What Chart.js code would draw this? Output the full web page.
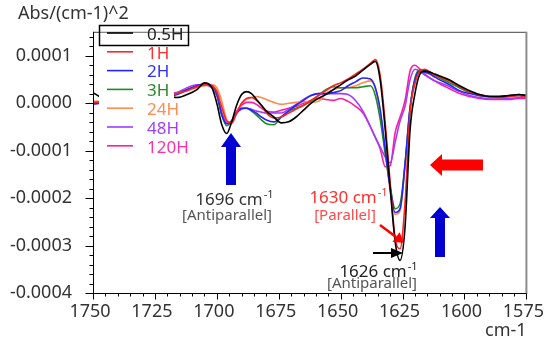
<!DOCTYPE html>
<html>
<head>
<meta charset="utf-8">
<script src="https://cdn.jsdelivr.net/npm/chart.js@4.4.1/dist/chart.umd.min.js"></script>
<style>
  html, body { margin: 0; padding: 0; background: #fff; }
</style>
</head>
<body>
<canvas id="spectra" width="555" height="343"></canvas>
<script>
// wavenumber grid (cm-1) and second-derivative values, in units of 1e-5
const wavenumbers = [1750, 1745, 1740, 1735, 1730, 1725, 1720, 1716, 1712, 1708,
    1705, 1702, 1700, 1698, 1696, 1694, 1692, 1690, 1688, 1686,
    1684, 1682, 1680, 1677, 1674, 1671, 1668, 1665, 1662, 1659,
    1656, 1653, 1650, 1647, 1644, 1641, 1638, 1636, 1634, 1632,
    1630, 1628, 1626, 1624, 1622, 1620, 1618, 1616, 1614, 1612,
    1610, 1606, 1602, 1598, 1594, 1590, 1586, 1582, 1578, 1575];

const h05 = [2.20, 0.76, 0.55, 0.76, 1.17, 1.38, 1.38, 1.17, 1.79, 2.81,
    4.25, 3.22, -0.06, -4.58, -6.43, -3.96, -0.47, 1.79, 2.40, 1.99,
    0.76, -0.47, -1.70, -2.94, -4.17, -3.96, -2.94, -1.50, -0.06, 0.97,
    1.79, 2.81, 3.84, 4.87, 5.69, 6.92, 8.15, 8.77, 4.66, -5.61,
    -17.93, -29.22, -33.12, -26.14, -5.81, 1.99, 6.10, 6.71, 6.51, 6.10,
    5.69, 4.87, 3.63, 2.61, 1.79, 1.38, 1.38, 1.58, 1.79, 1.58];
const h1 = [0.14, 0.35, 0.55, 0.76, 0.97, 1.17, 1.58, 1.99, 2.61, 3.43,
    3.84, 3.63, 2.40, -0.88, -3.76, -4.17, -2.11, -0.06, 0.97, 1.17,
    0.55, -0.47, -2.11, -3.14, -2.94, -2.11, -1.29, -0.47, 0.55, 1.58,
    2.61, 3.63, 4.25, 5.07, 6.10, 7.13, 8.36, 9.18, 5.69, -4.20,
    -16.90, -28.40, -30.66, -21.01, -2.11, 4.05, 6.71, 7.13, 6.51, 5.89,
    5.48, 4.66, 3.43, 2.40, 1.79, 1.38, 1.17, 1.38, 1.58, 1.38];
const h2 = [-0.27, 0.14, 0.55, 0.76, 0.97, 1.17, 1.38, 1.79, 2.81, 3.63,
    4.05, 3.63, 1.99, -2.53, -4.37, -3.96, -2.11, -1.09, -1.09, -1.50,
    -2.11, -2.94, -3.55, -3.96, -2.94, -1.70, -0.47, 0.55, 1.58, 1.99,
    1.99, 2.20, 2.61, 3.63, 4.46, 5.28, 5.07, 3.22, -1.50, -9.71,
    -17.93, -23.05, -22.24, -12.79, -1.09, 4.87, 6.71, 6.51, 6.10, 5.48,
    4.87, 3.84, 2.61, 1.99, 1.58, 1.38, 1.38, 1.58, 1.58, 1.38];
const h3 = [-0.06, 0.14, 0.55, 0.76, 0.97, 1.17, 1.58, 1.99, 2.81, 3.43,
    3.84, 3.63, 1.99, -2.53, -4.78, -3.76, -2.11, -1.09, -1.09, -1.70,
    -2.53, -3.55, -4.37, -4.58, -2.94, -1.70, -1.09, -0.47, 0.35, 1.58,
    2.81, 3.43, 3.22, 3.22, 3.22, 3.43, 3.63, 1.58, -3.55, -10.74,
    -17.52, -22.24, -21.21, -12.79, -1.29, 5.28, 6.92, 6.92, 6.51, 5.89,
    5.28, 4.25, 3.22, 2.20, 1.58, 1.38, 1.38, 1.38, 1.79, 1.58];
const h24 = [0.35, 0.35, 0.55, 0.76, 0.97, 1.17, 1.79, 1.99, 2.61, 3.22,
    3.63, 3.84, 3.22, 0.35, -3.55, -4.37, -2.11, -0.06, 0.76, 1.17,
    1.38, 1.17, 0.76, 0.14, -0.27, -0.06, 0.14, 0.35, 0.14, 0.35,
    1.99, 2.81, 3.22, 3.22, 3.63, 4.25, 4.66, 3.22, -2.11, -10.12,
    -18.54, -23.47, -22.65, -13.20, -1.29, 4.87, 6.71, 6.51, 6.30, 5.89,
    5.28, 4.46, 3.22, 2.20, 1.58, 1.17, 1.17, 1.38, 1.58, 1.38];
const h48 = [0.14, 0.35, 0.55, 0.76, 0.97, 1.38, 1.79, 2.20, 3.22, 3.84,
    3.84, 3.22, 1.58, -2.11, -4.17, -3.76, -2.11, -1.29, -1.09, -1.29,
    -1.70, -1.91, -2.11, -2.11, -2.11, -1.29, -0.27, 0.76, 1.58, 1.99,
    1.99, 1.99, 1.99, 1.79, 0.55, -1.70, -4.99, -7.25, -9.30, -11.36,
    -12.59, -8.27, -3.76, -0.68, 4.87, 7.13, 6.71, 5.89, 5.28, 4.66,
    4.25, 3.43, 2.40, 1.58, 1.17, 0.97, 0.97, 0.97, 1.17, 1.17];
const h120 = [0.14, 0.35, 0.55, 0.76, 0.97, 1.38, 1.99, 2.20, 2.81, 3.63,
    3.84, 3.22, 1.58, -2.11, -4.17, -3.76, -1.70, -0.47, 0.14, 0.14,
    -0.27, -1.09, -1.70, -1.91, -1.50, -1.09, -0.68, -0.06, 0.55, 0.97,
    0.76, 0.55, 0.97, 0.35, -0.68, -2.11, -4.99, -7.25, -9.71, -13.41,
    -13.20, -6.22, -2.94, 0.55, 6.71, 7.95, 7.13, 6.10, 5.28, 4.66,
    4.05, 3.02, 1.99, 1.38, 0.97, 0.76, 0.76, 0.76, 0.97, 0.97];

const seriesLabels = ['0.5H', '1H', '2H', '3H', '24H', '48H', '120H'];
const seriesValues = [h05, h1, h2, h3, h24, h48, h120];

const xTicks = [1750, 1725, 1700, 1675, 1650, 1625, 1600, 1575];
const yTicks = [-0.0004, -0.0003, -0.0002, -0.0001, 0, 0.0001];

const lineColors = ['#000000', '#ff2424', '#2424ff', '#1e8c1e', '#ff8c4c', '#a03cff', '#ff1c9e'];
const textColors = ['#222222', '#ff3030', '#3030ff', '#2a8a2a', '#ff8c50', '#a040ff', '#ff30a8'];
const FONT = '"Noto Sans", "Open Sans", sans-serif';
const UNIT = 1e-5;

// ---------------------------- helpers ------------------------------

function upArrow(ctx, cx, tipY, headY, bottomY, headHalf, shaftHalf, color) {
    ctx.fillStyle = color;
    ctx.beginPath();
    ctx.moveTo(cx, tipY);
    ctx.lineTo(cx + headHalf, headY);
    ctx.lineTo(cx + shaftHalf, headY);
    ctx.lineTo(cx + shaftHalf, bottomY);
    ctx.lineTo(cx - shaftHalf, bottomY);
    ctx.lineTo(cx - shaftHalf, headY);
    ctx.lineTo(cx - headHalf, headY);
    ctx.closePath();
    ctx.fill();
}

function leftArrow(ctx, tipX, cy, headX, endX, headHalf, shaftHalf, color) {
    ctx.fillStyle = color;
    ctx.beginPath();
    ctx.moveTo(tipX, cy);
    ctx.lineTo(headX, cy - headHalf);
    ctx.lineTo(headX, cy - shaftHalf);
    ctx.lineTo(endX, cy - shaftHalf);
    ctx.lineTo(endX, cy + shaftHalf);
    ctx.lineTo(headX, cy + shaftHalf);
    ctx.lineTo(headX, cy + headHalf);
    ctx.closePath();
    ctx.fill();
}

function lineArrow(ctx, x1, y1, x2, y2, width, headLen, headHalf, color) {
    const ang = Math.atan2(y2 - y1, x2 - x1);
    const bx = x2 - headLen * Math.cos(ang);
    const by = y2 - headLen * Math.sin(ang);
    ctx.strokeStyle = color;
    ctx.lineWidth = width;
    ctx.beginPath();
    ctx.moveTo(x1, y1);
    ctx.lineTo(bx, by);
    ctx.stroke();
    ctx.fillStyle = color;
    ctx.beginPath();
    ctx.moveTo(x2, y2);
    ctx.lineTo(bx + headHalf * Math.sin(ang), by - headHalf * Math.cos(ang));
    ctx.lineTo(bx - headHalf * Math.sin(ang), by + headHalf * Math.cos(ang));
    ctx.closePath();
    ctx.fill();
}

function bandLabel(ctx, num, cx, baseY, size, color) {
    ctx.font = size + 'px ' + FONT;
    const main = num + ' cm';
    const w1 = ctx.measureText(main).width;
    ctx.font = Math.round(size * 0.62) + 'px ' + FONT;
    const w2 = ctx.measureText('-1').width;
    const x0 = cx - (w1 + w2) / 2;
    ctx.fillStyle = color;
    ctx.textAlign = 'left';
    ctx.textBaseline = 'alphabetic';
    ctx.font = size + 'px ' + FONT;
    ctx.fillText(main, x0, baseY);
    ctx.font = Math.round(size * 0.62) + 'px ' + FONT;
    ctx.fillText('-1', x0 + w1 + 1, baseY - size * 0.42);
}

function plainText(ctx, text, cx, cy, size, color) {
    ctx.font = size + 'px ' + FONT;
    ctx.fillStyle = color;
    ctx.textAlign = 'center';
    ctx.textBaseline = 'middle';
    ctx.fillText(text, cx, cy);
}

// ---------------------------- plugins ------------------------------

const framePlugin = {
    id: 'frame',
    afterDatasetsDraw(chart) {
        const { ctx, chartArea: a, scales: { x, y } } = chart;
        ctx.save();
        ctx.strokeStyle = '#444';
        ctx.lineWidth = 1;
        ctx.beginPath();
        ctx.moveTo(a.left, a.top + 0.5);
        ctx.lineTo(a.right, a.top + 0.5);
        ctx.stroke();
        ctx.strokeStyle = '#8c8c8c';
        ctx.lineWidth = 2;
        ctx.beginPath();
        ctx.moveTo(a.right, a.top);
        ctx.lineTo(a.right, a.bottom + 1);
        ctx.stroke();

        ctx.strokeStyle = '#000';
        ctx.lineWidth = 1;
        ctx.beginPath();
        ctx.moveTo(a.left + 0.5, a.top);
        ctx.lineTo(a.left + 0.5, a.bottom + 0.5);
        ctx.lineTo(a.right, a.bottom + 0.5);
        ctx.stroke();

        // y ticks every 0.00002, long ones at 0.0001
        ctx.beginPath();
        for (let k = -20; k <= 7; k++) {
            const py = Math.round(y.getPixelForValue(k * 2e-5)) + 0.5;
            const len = k % 5 === 0 ? 8 : 4;
            ctx.moveTo(a.left + 0.5, py);
            ctx.lineTo(a.left + 0.5 - len, py);
        }
        // x ticks every 5 cm-1, long ones at 25
        for (let w = 1575; w <= 1750; w += 5) {
            const px = Math.round(x.getPixelForValue(w)) + 0.5;
            const len = w % 25 === 0 ? 6 : 3;
            ctx.moveTo(px, a.bottom + 0.5);
            ctx.lineTo(px, a.bottom + 0.5 + len);
        }
        ctx.stroke();
        ctx.restore();
    }
};

const legendPlugin = {
    id: 'boxLegend',
    afterDatasetsDraw(chart) {
        const ctx = chart.ctx;
        const a = chart.chartArea;
        ctx.save();
        ctx.fillStyle = '#fff';
        ctx.fillRect(a.left + 6, a.top + 1, 75, 130);
        chart.data.datasets.forEach((ds, i) => {
            const cy = 35 + i * 18.8;
            ctx.strokeStyle = ds.borderColor;
            ctx.lineWidth = 1.6;
            ctx.beginPath();
            ctx.moveTo(107, cy - 2);
            ctx.lineTo(133, cy - 2);
            ctx.stroke();
            ctx.font = '17px ' + FONT;
            ctx.fillStyle = textColors[i];
            ctx.textAlign = 'left';
            ctx.textBaseline = 'middle';
            ctx.fillText(ds.label, 147, cy);
        });
        ctx.strokeStyle = '#000';
        ctx.lineWidth = 1.5;
        ctx.strokeRect(99.5, 25.5, 89, 20);
        ctx.restore();
    }
};

const notesPlugin = {
    id: 'notes',
    afterDraw(chart) {
        const ctx = chart.ctx;
        ctx.save();
        // axis titles
        ctx.font = '18px ' + FONT;
        ctx.fillStyle = '#333';
        ctx.textAlign = 'left';
        ctx.textBaseline = 'middle';
        ctx.fillText('Abs/(cm-1)^2', 18, 14);
        ctx.fillText('cm-1', 485, 331);

        // arrows
        upArrow(ctx, 231, 133, 147, 185, 10, 5, '#0000d2');
        upArrow(ctx, 440, 207, 218, 257, 10, 5, '#0000d2');
        leftArrow(ctx, 430, 165, 442, 483, 11, 5.5, '#ff0000');
        lineArrow(ctx, 380, 225, 404, 243, 2.5, 10, 6, '#ff0000');
        lineArrow(ctx, 373, 253, 403, 253, 2, 12, 5, '#000000');

        // band labels
        bandLabel(ctx, '1696', 234, 205, 17, '#333');
        plainText(ctx, '[Antiparallel]', 227, 216, 15, '#555');
        bandLabel(ctx, '1630', 348, 203, 17, '#ff3030');
        plainText(ctx, '[Parallel]', 345, 216, 15, '#ff4a4a');
        bandLabel(ctx, '1626', 378, 277, 17, '#222');
        plainText(ctx, '[Antiparallel]', 372, 284, 15, '#555');
        ctx.restore();
    }
};

// ---------------------------- chart ------------------------------

const datasets = seriesValues.map((vals, i) => ({
    label: seriesLabels[i],
    data: wavenumbers.map((w, j) => ({ x: w, y: vals[j] * UNIT })),
    borderColor: lineColors[i],
    borderWidth: 1.6,
    pointRadius: 0,
    cubicInterpolationMode: 'monotone',
    fill: false
}));

const tickFont = { family: FONT, size: 18 };

new Chart(document.getElementById('spectra').getContext('2d'), {
    type: 'line',
    data: { datasets: datasets },
    options: {
        responsive: false,
        animation: false,
        devicePixelRatio: 1,
        layout: { padding: { top: 25, right: 13, left: 0, bottom: 0 } },
        plugins: {
            legend: { display: false },
            tooltip: { enabled: false }
        },
        scales: {
            x: {
                type: 'linear',
                reverse: true,
                min: 1575,
                max: 1750,
                afterBuildTicks: s => { s.ticks = xTicks.map(v => ({ value: v })); },
                afterFit: s => { s.height = 50; },
                grid: { display: false, drawTicks: false },
                border: { display: false },
                ticks: {
                    font: tickFont,
                    color: '#333',
                    padding: 8,
                    labelOffset: -3,
                    maxRotation: 0,
                    autoSkip: false,
                    callback: v => String(v)
                }
            },
            y: {
                min: -0.0004,
                max: 0.00015,
                afterBuildTicks: s => { s.ticks = yTicks.map(v => ({ value: v })); },
                afterFit: s => { s.width = 93; },
                grid: { display: false, drawTicks: false },
                border: { display: false },
                ticks: {
                    font: tickFont,
                    color: '#333',
                    padding: 21,
                    callback: v => v.toFixed(4)
                }
            }
        }
    },
    plugins: [framePlugin, legendPlugin, notesPlugin]
});
</script>
</body>
</html>
